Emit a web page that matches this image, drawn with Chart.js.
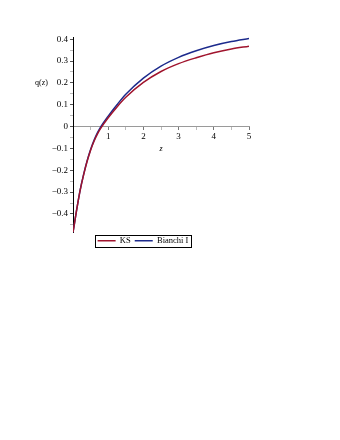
<!DOCTYPE html>
<html>
<head>
<meta charset="utf-8">
<script src="https://cdn.jsdelivr.net/npm/chart.js@4"></script>
<style>
  html, body { margin: 0; padding: 0; background: #fff; }
  #wrap { width: 340px; height: 440px; }
</style>
</head>
<body>
<div id="wrap"><canvas id="chart"></canvas></div>
<script>
const zValues = [0, 0.05, 0.1, 0.15, 0.2, 0.3, 0.4, 0.5, 0.6, 0.7, 0.8, 1, 1.25, 1.5, 2, 2.5, 3, 3.5, 4, 4.5, 5];
const ksValues = [-0.485, -0.435, -0.385, -0.338, -0.294, -0.222, -0.16, -0.108, -0.066, -0.032, -0.005, 0.04, 0.09, 0.134, 0.202, 0.252, 0.288, 0.315, 0.338, 0.355, 0.368];
const bianchiValues = [-0.485, -0.435, -0.385, -0.338, -0.293, -0.22, -0.157, -0.105, -0.062, -0.027, 0.002, 0.048, 0.1, 0.148, 0.222, 0.277, 0.317, 0.347, 0.371, 0.389, 0.403];
const seriesNames = ["KS", "Bianchi I"];
const seriesColors = ["#a0142d", "#1c2a8c"];

const FONT = "'Liberation Serif', 'DejaVu Serif', serif";

function toPoints(ys) {
    return zValues.map((z, i) => ({ x: z, y: ys[i] }));
}

function isMultiple(v, step) {
    return Math.abs(v / step - Math.round(v / step)) < 1e-6;
}

function formatNum(v) {
    if (Math.abs(v) < 1e-9) return "0";
    const s = Math.abs(v).toFixed(1);
    return v < 0 ? "\u2212" + s : s;
}

// frame around the legend + horizontal q(z) label
const extras = {
    id: "extras",
    afterDraw(chart) {
        const ctx = chart.ctx;
        const boxes = chart.legend.legendHitBoxes;
        if (boxes && boxes.length) {
            const left = Math.min(...boxes.map(b => b.left)) - 3;
            const right = Math.max(...boxes.map(b => b.left + b.width)) + 2;
            const top = Math.min(...boxes.map(b => b.top)) - 2;
            const bottom = Math.max(...boxes.map(b => b.top + b.height)) + 1;
            ctx.save();
            ctx.strokeStyle = "#000";
            ctx.lineWidth = 1;
            ctx.strokeRect(Math.round(left) + 0.5, Math.round(top) + 0.5,
                Math.round(right - left), Math.round(bottom - top));
            ctx.restore();
        }
        const y = chart.scales.y;
        ctx.save();
        ctx.font = "8px " + FONT;
        ctx.fillStyle = "#000";
        ctx.textAlign = "left";
        ctx.textBaseline = "middle";
        ctx.fillText("q(z)", y.left - 2, y.getPixelForValue(0.2));
        ctx.restore();
    }
};

new Chart(document.getElementById("chart"), {
    type: "line",
    data: {
        datasets: [
            {
                label: seriesNames[0],
                data: toPoints(ksValues),
                borderColor: seriesColors[0],
                backgroundColor: seriesColors[0],
                borderWidth: 1.5,
                pointRadius: 0,
                cubicInterpolationMode: "monotone"
            },
            {
                label: seriesNames[1],
                data: toPoints(bianchiValues),
                borderColor: seriesColors[1],
                backgroundColor: seriesColors[1],
                borderWidth: 1.5,
                pointRadius: 0,
                cubicInterpolationMode: "monotone"
            }
        ]
    },
    options: {
        responsive: true,
        maintainAspectRatio: false,
        animation: false,
        layout: { padding: { left: 37, right: 91, top: 37, bottom: 185 } },
        plugins: {
            tooltip: { enabled: false },
            legend: {
                position: "bottom",
                labels: {
                    usePointStyle: true,
                    pointStyle: "line",
                    pointStyleWidth: 18,
                    boxHeight: 8,
                    padding: 4,
                    color: "#000",
                    font: { family: FONT, size: 8.5 }
                }
            }
        },
        scales: {
            x: {
                type: "linear",
                position: { y: 0 },
                min: 0,
                max: 5,
                border: { color: "#9a9a9a", width: 1 },
                grid: {
                    drawOnChartArea: false,
                    tickLength: 3,
                    color: ctx => isMultiple(ctx.tick.value, 1) ? "#777" : "#bbb"
                },
                ticks: {
                    stepSize: 0.5,
                    autoSkip: false,
                    maxRotation: 0,
                    padding: 2,
                    color: "#000",
                    font: { family: FONT, size: 9 },
                    callback: v => (isMultiple(v, 1) && v !== 0) ? String(v) : ""
                },
                title: {
                    display: true,
                    text: "z",
                    color: "#000",
                    padding: 0,
                    font: { family: FONT, size: 8, style: "italic" }
                }
            },
            y: {
                type: "linear",
                min: -0.485,
                max: 0.41,
                afterFit: s => { s.width = 36; },
                border: { color: "#000", width: 1 },
                grid: {
                    drawOnChartArea: false,
                    tickLength: 3,
                    color: ctx => isMultiple(ctx.tick.value, 0.1) ? "#555" : "#bbb"
                },
                ticks: {
                    stepSize: 0.05,
                    includeBounds: false,
                    autoSkip: false,
                    padding: 2,
                    color: "#000",
                    font: { family: FONT, size: 9 },
                    callback: v => isMultiple(v, 0.1) ? formatNum(v) : ""
                }
            }
        }
    },
    plugins: [extras]
});
</script>
</body>
</html>
